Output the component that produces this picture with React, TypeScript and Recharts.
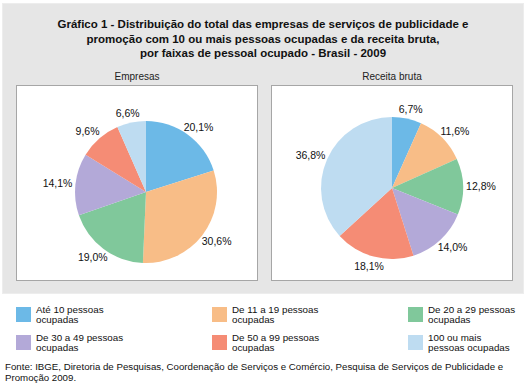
import React from 'react';
import { PieChart, Pie, Cell } from 'recharts';

const categories = [
  'Até 10 pessoas ocupadas',
  'De 11 a 19 pessoas ocupadas',
  'De 20 a 29 pessoas ocupadas',
  'De 30 a 49 pessoas ocupadas',
  'De 50 a 99 pessoas ocupadas',
  '100 ou mais pessoas ocupadas',
];
const legendLines = [
  ['Até 10 pessoas', 'ocupadas'],
  ['De 11 a 19 pessoas', 'ocupadas'],
  ['De 20 a 29 pessoas', 'ocupadas'],
  ['De 30 a 49 pessoas', 'ocupadas'],
  ['De 50 a 99 pessoas', 'ocupadas'],
  ['100 ou mais', 'pessoas ocupadas'],
];
const empresas = [20.1, 30.6, 19.0, 14.1, 9.6, 6.6];
const receita = [6.7, 11.6, 12.8, 14.0, 18.1, 36.8];
const colors = ['#6cb9e7', '#f8bd87', '#80c89b', '#b3a9d8', '#f58c75', '#bedcf1'];

const FONT = '"Liberation Sans", Arial, sans-serif';
const RADIAN = Math.PI / 180;

const fmt = (v: number) => v.toFixed(1).replace('.', ',') + '%';

function renderLabel(props: any) {
  const { cx, cy, midAngle, outerRadius, value } = props;
  const c = Math.cos(-midAngle * RADIAN);
  const s = Math.sin(-midAngle * RADIAN);
  const r = outerRadius + 5;
  const x = cx + r * c + c * 13;
  const y = cy + r * s + s * 5;
  return (
    <text x={x} y={y} textAnchor="middle" dominantBaseline="central" fontSize={10.5} fill="#111" fontFamily={FONT}>
      {fmt(value)}
    </text>
  );
}

function PieBox({ values, left, cx, cy, title }: { values: number[]; left: number; cx: number; cy: number; title: string }) {
  const data = categories.map((name, i) => ({ name, value: values[i] }));
  return (
    <>
      <div style={{ position: 'absolute', left, top: 71, width: 242, textAlign: 'center', fontSize: 10, color: '#222' }}>{title}</div>
      <div style={{ position: 'absolute', left, top: 85, width: 240, height: 194, background: '#fff', border: '1px solid #a6a6a6' }}>
        <PieChart width={240} height={194}>
          <Pie
            data={data}
            dataKey="value"
            cx={cx}
            cy={cy}
            outerRadius={71}
            startAngle={90}
            endAngle={-270}
            stroke="none"
            label={renderLabel}
            labelLine={false}
            isAnimationActive={false}
          >
            {data.map((d, i) => (
              <Cell key={d.name} fill={colors[i]} />
            ))}
          </Pie>
        </PieChart>
      </div>
    </>
  );
}

const legendCols = [16, 212, 408];
const legendRows = [307, 335];

export default function App() {
  return (
    <div style={{ position: 'absolute', left: 0, top: 0, width: 530, height: 388, background: '#fff', fontFamily: FONT, overflow: 'hidden' }}>
      <div style={{ position: 'absolute', left: 2, top: 3, width: 520, height: 289, background: '#e6e6e6', border: '1px solid #ededed' }} />
      <div style={{ position: 'absolute', left: 2, top: 17, width: 522, textAlign: 'center', fontWeight: 'bold', fontSize: 11.5, lineHeight: '14.5px', color: '#111' }}>
        Gráfico 1 - Distribuição do total das empresas de serviços de publicidade e<br />
        promoção com 10 ou mais pessoas ocupadas e da receita bruta,<br />
        por faixas de pessoal ocupado - Brasil - 2009
      </div>
      <PieBox values={empresas} left={16} cx={124} cy={101} title="Empresas" />
      <PieBox values={receita} left={271} cx={115} cy={97} title="Receita bruta" />
      {categories.map((name, i) => {
        const col = i % 3;
        const row = Math.floor(i / 3);
        return (
          <div key={name} style={{ position: 'absolute', left: legendCols[col], top: legendRows[row] }}>
            <div style={{ position: 'absolute', left: 0, top: 0, width: 15, height: 15, background: colors[i] }} />
            <div style={{ position: 'absolute', left: 20, top: -2, whiteSpace: 'nowrap', fontSize: 9.8, lineHeight: '10px', color: '#111' }}>
              {legendLines[i][0]}
              <br />
              {legendLines[i][1]}
            </div>
          </div>
        );
      })}
      <div style={{ position: 'absolute', left: 5, top: 361, width: 525, fontSize: 9.7, lineHeight: '11px', color: '#111', whiteSpace: 'nowrap' }}>
        Fonte: IBGE, Diretoria de Pesquisas, Coordenação de Serviços e Comércio, Pesquisa de Serviços de Publicidade e<br />
        Promoção 2009.
      </div>
    </div>
  );
}
